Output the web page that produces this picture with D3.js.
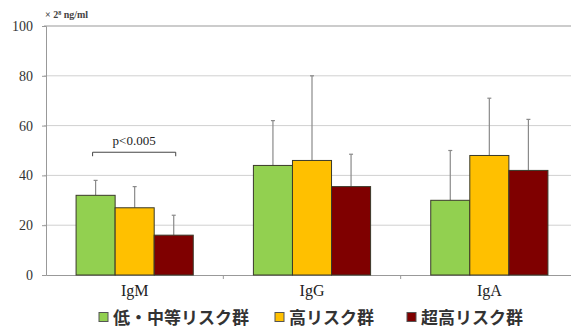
<!DOCTYPE html>
<html><head><meta charset="utf-8">
<script src="https://cdn.jsdelivr.net/npm/d3@7"></script>
<style>body{margin:0;background:#fff}svg{display:block}
.serif{font-family:'Liberation Serif','Times New Roman','DejaVu Serif',serif !important}
</style>
</head><body>
<script>
const categories = ["IgM", "IgG", "IgA"];
const seriesNames = ["低・中等リスク群", "高リスク群", "超高リスク群"];
const seriesColors = ["#92D050", "#FFC000", "#7F0000"];
const lowMid = [32, 44, 30];
const lowMidSD = [38, 62, 50];
const high = [27, 46, 48];
const highSD = [35.5, 80, 71];
const veryHigh = [16, 35.5, 42];
const veryHighSD = [24, 48.5, 62.5];
const yTicks = [0, 20, 40, 60, 80, 100];
const unitLabel = "× 2⁸ ng/ml";
const pLabel = "p<0.005";

const W = 571, H = 328;
const svg = d3.select("body").append("svg").attr("width", W).attr("height", H);
const x0 = 46, x1 = 578, yTop = 26, yBot = 275;
const y = d3.scaleLinear().domain([0, 100]).range([yBot, yTop]);
const xb = d3.scaleBand().domain(categories).range([x0, x1]).paddingInner(0).paddingOuter(0);
const xs = d3.scaleBand().domain([0,1,2]).range([0, xb.bandwidth()]).paddingInner(0).paddingOuter(0.77);

const series = [
  {vals: lowMid, sd: lowMidSD},
  {vals: high, sd: highSD},
  {vals: veryHigh, sd: veryHighSD}
];

// gridlines
svg.append("g").selectAll("line").data(yTicks.slice(1)).join("line")
  .attr("x1", x0 - 2).attr("x2", W).attr("y1", d => y(d)).attr("y2", d => y(d))
  .attr("stroke", d => d === 100 ? "#999" : "#d0d0d0").attr("stroke-width", 1);

// y axis
const ya = svg.append("g").attr("transform", `translate(${x0},0)`)
  .call(d3.axisLeft(y).tickValues(yTicks).tickSize(4).tickPadding(9));
ya.select(".domain").attr("stroke", "#999");
ya.selectAll(".tick line").attr("stroke", "#999");
ya.attr("font-family", null);
ya.selectAll("text").attr("class", "serif").attr("font-size", 14)
  .attr("fill", "#333");

// x axis
const xa = svg.append("g").attr("transform", `translate(0,${yBot})`)
  .call(d3.axisBottom(xb).tickSize(0).tickPadding(10));
xa.attr("font-family", null);
xa.select(".domain").attr("stroke", "#999");
xa.selectAll("text").attr("class", "serif").attr("font-size", 16).attr("fill", "#222");
svg.append("g").selectAll("line").data(categories.slice(1)).join("line")
  .attr("x1", d => xb(d)).attr("x2", d => xb(d)).attr("y1", yBot).attr("y2", yBot + 4)
  .attr("stroke", "#999");

// error bars (upper only)
series.forEach((s, i) => {
  const g = svg.append("g");
  categories.forEach((c, j) => {
    const cx = xb(c) + xs(i) + xs.bandwidth() / 2;
    g.append("line").attr("x1", cx).attr("x2", cx).attr("y1", y(s.vals[j])).attr("y2", y(s.sd[j]))
      .attr("stroke", "#8a8a8a").attr("stroke-width", 1.2);
    g.append("line").attr("x1", cx - 2).attr("x2", cx + 2).attr("y1", y(s.sd[j])).attr("y2", y(s.sd[j]))
      .attr("stroke", "#8a8a8a").attr("stroke-width", 1.2);
  });
});

// bars
series.forEach((s, i) => {
  svg.append("g").selectAll("rect").data(categories).join("rect")
    .attr("x", (c) => xb(c) + xs(i))
    .attr("width", xs.bandwidth())
    .attr("y", (c, j) => y(s.vals[j]))
    .attr("height", (c, j) => yBot - y(s.vals[j]))
    .attr("fill", seriesColors[i]).attr("stroke", "#3a3a2a").attr("stroke-width", 1);
});

// significance bracket
const bx1 = xb("IgM") + xs(0) + xs.bandwidth() / 2 - 3;
const bx2 = xb("IgM") + xs(2) + xs.bandwidth() / 2 + 2;
const by = y(49.3);
svg.append("path").attr("d", `M${bx1},${by + 4}V${by}H${bx2}V${by + 4}`)
  .attr("fill", "none").attr("stroke", "#444").attr("stroke-width", 1);
svg.append("text").attr("class", "serif").attr("x", (bx1 + bx2) / 2).attr("y", by - 7).attr("text-anchor", "middle")
  .attr("font-size", 13).attr("fill", "#222").text(pLabel);

// unit label
svg.append("text").attr("class", "serif").attr("x", x0 - 1).attr("y", 18)
  .attr("font-size", 10).attr("font-weight", "bold").attr("fill", "#444").text(unitLabel);

// legend
const legendX = [99, 275, 407];
const lg = svg.append("g");
seriesNames.forEach((n, i) => {
  lg.append("rect").attr("x", legendX[i]).attr("y", 312.5).attr("width", 9).attr("height", 9)
    .attr("fill", seriesColors[i]).attr("stroke", "#555").attr("stroke-width", 1);
  lg.append("text").attr("x", legendX[i] + 14).attr("y", 324)
    .style("font-family", "'Noto Sans CJK JP', sans-serif").attr("font-size", 17).attr("font-weight", "bold")
    .attr("fill", "#333").text(n);
});
</script>
</body></html>
